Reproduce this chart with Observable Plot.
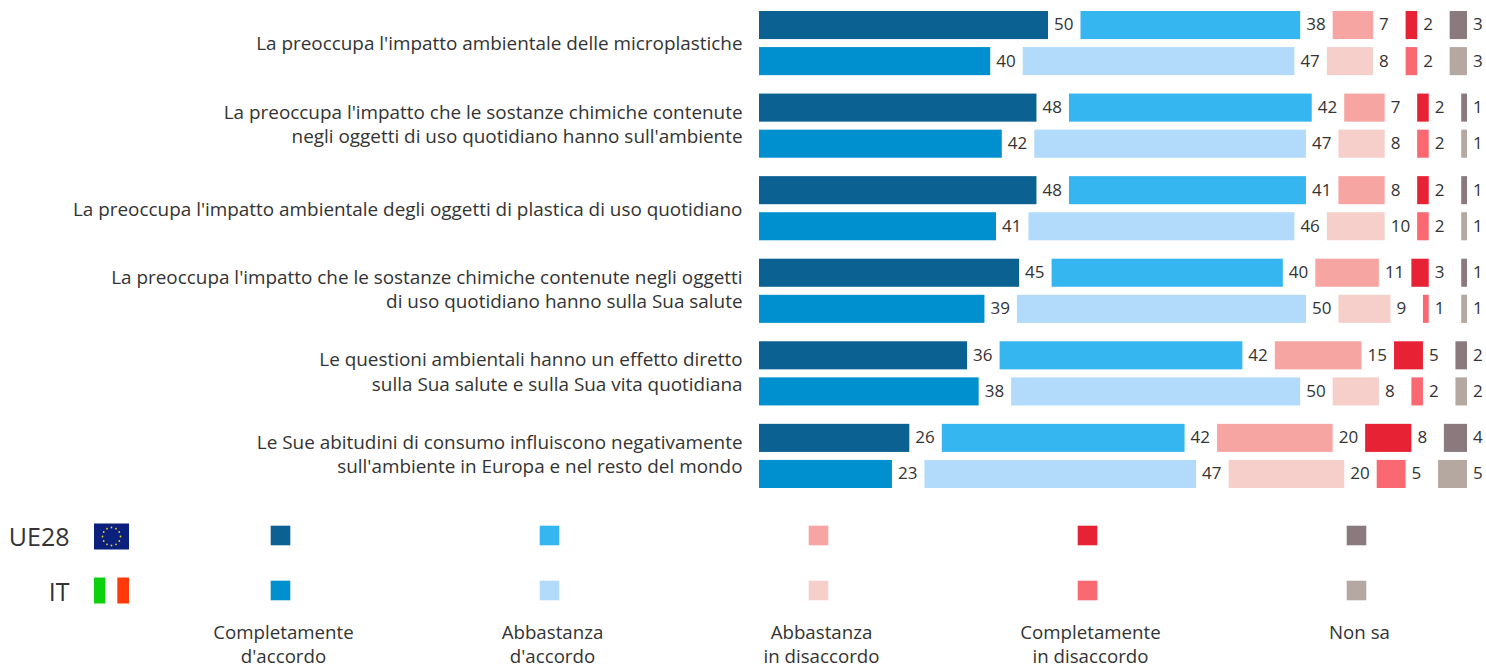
<!DOCTYPE html>
<html>
<head>
<meta charset="utf-8">
<script src="https://cdn.jsdelivr.net/npm/d3@7"></script>
<script src="https://cdn.jsdelivr.net/npm/@observablehq/plot@0.6"></script>
<style>
html,body{margin:0;padding:0;background:#fff}
svg{display:block}
</style>
</head>
<body>
<div id="chart"></div>
<script>
const statements = [
  "La preoccupa l'impatto ambientale delle microplastiche",
  "La preoccupa l'impatto che le sostanze chimiche contenute\nnegli oggetti di uso quotidiano hanno sull'ambiente",
  "La preoccupa l'impatto ambientale degli oggetti di plastica di uso quotidiano",
  "La preoccupa l'impatto che le sostanze chimiche contenute negli oggetti\ndi uso quotidiano hanno sulla Sua salute",
  "Le questioni ambientali hanno un effetto diretto\nsulla Sua salute e sulla Sua vita quotidiana",
  "Le Sue abitudini di consumo influiscono negativamente\nsull'ambiente in Europa e nel resto del mondo"
];
const answers = ["Completamente\nd'accordo","Abbastanza\nd'accordo","Abbastanza\nin disaccordo","Completamente\nin disaccordo","Non sa"];
const geos = ["UE28","IT"];

const valuesUE = [
  [50,38,7,2,3],
  [48,42,7,2,1],
  [48,41,8,2,1],
  [45,40,11,3,1],
  [36,42,15,5,2],
  [26,42,20,8,4]
];
const valuesIT = [
  [40,47,8,2,3],
  [42,47,8,2,1],
  [41,46,10,2,1],
  [39,50,9,1,1],
  [38,50,8,2,2],
  [23,47,20,5,5]
];
const colorsUE = ["#0b6191","#35b6f0","#f6a5a2","#e62234","#8a7a7d"];
const colorsIT = ["#0090cf","#b1dafb","#f6cfcb","#fa6871","#b5a8a0"];

const FONT = "'Open Sans', Lato, sans-serif";
const INK = "#333333";
const GAP = 5.62; // spacing between the stacked answers, in percentage points

const rows = [];
statements.forEach((statement, s) => {
  [[geos[0], valuesUE, colorsUE], [geos[1], valuesIT, colorsIT]].forEach(([geo, values, colors]) => {
    let at = 0;
    values[s].forEach((value, a) => {
      rows.push({statement, geo, value, x1: at, x2: at + value, color: colors[a]});
      at += value + GAP;
    });
  });
});

const axisText = {anchor: "left", tickSize: 0, tickPadding: 17, fontSize: 18.9, lineHeight: 1.29, fill: INK, label: null, lineWidth: 100};

const main = Plot.plot({
  width: 1486, height: 500,
  marginLeft: 759, marginRight: 19, marginTop: 11, marginBottom: 12,
  style: {fontFamily: FONT, background: "#fff"},
  x: {domain: [0, 100 + 4 * GAP], axis: null},
  y: {domain: geos, paddingInner: 0.222, paddingOuter: 0, round: false, axis: null},
  fy: {domain: statements, paddingInner: 0.223, paddingOuter: 0, round: false, axis: null},
  marks: [
    Plot.axisFy({...axisText, ticks: statements.filter(d => !d.includes("\n")), dy: -1}),
    Plot.axisFy({...axisText, ticks: statements.filter(d => d.includes("\n")), dy: -3}),
    Plot.barX(rows, {x1: "x1", x2: "x2", y: "geo", fy: "statement", fill: "color"}),
    Plot.text(rows, {x: "x2", y: "geo", fy: "statement", text: d => String(d.value), textAnchor: "start", dx: 5.5, dy: -0.5, fontSize: 17, fill: INK})
  ]
});

const flags = (index, {y}) => {
  const g = d3.create("svg:g");
  const left = 94, w = 35, h = 26;
  const euY = y("UE28") - h / 2 + 1.5, itY = y("IT") - h / 2 + 0.5;
  g.append("rect").attr("x", left).attr("y", euY).attr("width", w).attr("height", h).attr("fill", "#0b1f7d");
  d3.range(12).forEach(i => {
    const t = i / 12 * 2 * Math.PI;
    g.append("circle").attr("cx", left + w / 2 + 9 * Math.cos(t)).attr("cy", euY + h / 2 + 9 * Math.sin(t)).attr("r", 0.9).attr("fill", "#e8d21d");
  });
  [["#0fd00f", 0], ["#ffffff", 1], ["#ff3a0a", 2]].forEach(([c, i]) => {
    g.append("rect").attr("x", left + i * w / 3).attr("y", itY).attr("width", w / 3).attr("height", h).attr("fill", c);
  });
  return g.node();
};

const legendRows = [];
answers.forEach((answer, a) => {
  legendRows.push({answer, geo: "UE28", color: colorsUE[a]});
  legendRows.push({answer, geo: "IT", color: colorsIT[a]});
});

const legend = Plot.plot({
  width: 1486, height: 168,
  margin: 0,
  style: {fontFamily: FONT, background: "#fff"},
  x: {type: "point", domain: answers, range: [278.5, 1356.5], padding: 0, axis: null},
  y: {type: "point", domain: geos, range: [34.5, 89.5], padding: 0, axis: null},
  marks: [
    Plot.dot(legendRows, {x: "answer", y: "geo", fill: "color", symbol: "square", r: 11.06}),
    Plot.text(geos, {y: d => d, text: d => d, frameAnchor: "left", dx: 69, dy: 2.5, textAnchor: "end", fontSize: 25, fill: INK}),
    flags,
    Plot.text(answers, {x: d => d, text: d => d, frameAnchor: "top", lineAnchor: "top", dx: 3, dy: 121.5, fontSize: 18.7, lineHeight: 1.29, fill: INK})
  ]
});

document.getElementById("chart").append(main, legend);
</script>
</body>
</html>
